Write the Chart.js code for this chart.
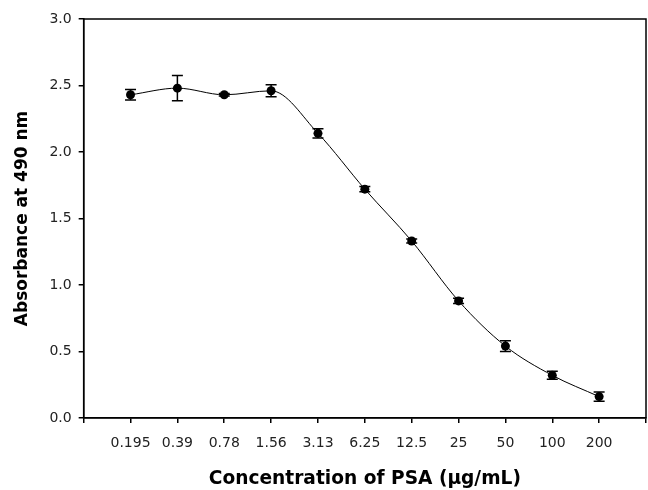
<!DOCTYPE html>
<html>
<head>
<meta charset="utf-8">
<script src="https://cdn.jsdelivr.net/npm/chart.js@4"></script>
<style>
    body { margin: 0; background: #fff; }
    #wrap { width: 648px; height: 490px; }
</style>
</head>
<body>
<div id="wrap"><canvas id="psaChart"></canvas></div>
<script>
// PSA concentrations (ug/mL) and mean absorbance at 490 nm with error bars
var concentrations = ["0.195", "0.39", "0.78", "1.56", "3.13", "6.25", "12.5", "25", "50", "100", "200"];
var absorbance = [2.43, 2.48, 2.43, 2.46, 2.14, 1.72, 1.33, 0.88, 0.54, 0.32, 0.16];
var errors = [0.04, 0.095, 0.01, 0.045, 0.035, 0.02, 0.015, 0.02, 0.04, 0.03, 0.035];

var points = absorbance.map(function (v, i) {
    return { x: i + 1, y: v };
});

// box around the plot area
var frame = {
    id: 'frame',
    beforeDatasetsDraw: function (chart) {
        var a = chart.chartArea, ctx = chart.ctx;
        ctx.save();
        ctx.strokeStyle = '#000';
        ctx.lineWidth = 1.5;
        ctx.strokeRect(a.left, a.top, a.right - a.left, a.bottom - a.top);
        ctx.restore();
    }
};

var errorBars = {
    id: 'errorBars',
    afterDatasetsDraw: function (chart) {
        var ctx = chart.ctx, xs = chart.scales.x, ys = chart.scales.y;
        ctx.save();
        ctx.strokeStyle = '#000';
        ctx.lineWidth = 1.5;
        points.forEach(function (p, i) {
            var px = xs.getPixelForValue(p.x);
            var top = ys.getPixelForValue(p.y + errors[i]);
            var bot = ys.getPixelForValue(p.y - errors[i]);
            ctx.beginPath();
            ctx.moveTo(px, top); ctx.lineTo(px, bot);
            ctx.moveTo(px - 5.5, top); ctx.lineTo(px + 5.5, top);
            ctx.moveTo(px - 5.5, bot); ctx.lineTo(px + 5.5, bot);
            ctx.stroke();
        });
        ctx.restore();
    }
};

var tickFont = { family: '"DejaVu Sans", Arial, sans-serif', size: 14 };

new Chart(document.getElementById('psaChart'), {
    type: 'line',
    data: {
        datasets: [{
            data: points,
            borderColor: '#000',
            borderWidth: 1,
            backgroundColor: '#000',
            pointRadius: 4.5,
            pointBorderWidth: 0,
            cubicInterpolationMode: 'monotone'
        }]
    },
    options: {
        responsive: true,
        maintainAspectRatio: false,
        animation: false,
        layout: { autoPadding: false, padding: { top: 19, right: 2, left: 12, bottom: 0 } },
        plugins: {
            legend: { display: false },
            tooltip: { enabled: false },
            title: {
                display: true,
                position: 'bottom',
                fullSize: false,
                text: 'Concentration of PSA (\u00b5g/mL)',
                color: '#000',
                font: { family: '"DejaVu Sans", Arial, sans-serif', size: 18.6, weight: 'bold' },
                padding: { top: 4, bottom: 0 }
            }
        },
        scales: {
            x: {
                type: 'linear',
                min: 0,
                max: 12,
                // the last tick has no label, so no room is needed for it
                afterFit: function (scale) { scale.paddingRight = 0; },
                grid: { drawOnChartArea: false, tickLength: 5, color: '#000', lineWidth: 1.5 },
                border: { color: '#000', width: 1.5 },
                ticks: {
                    stepSize: 1,
                    autoSkip: false,
                    maxRotation: 0,
                    padding: 12,
                    color: '#222',
                    font: tickFont,
                    callback: function (v) { return concentrations[v - 1] || ''; }
                }
            },
            y: {
                min: 0,
                max: 3,
                grid: { drawOnChartArea: false, tickLength: 5, color: '#000', lineWidth: 1.5 },
                border: { color: '#000', width: 1.5 },
                ticks: {
                    stepSize: 0.5,
                    padding: 7,
                    color: '#222',
                    font: tickFont,
                    callback: function (v) { return v.toFixed(1); }
                },
                title: {
                    display: true,
                    text: 'Absorbance at 490 nm',
                    color: '#000',
                    font: { family: '"DejaVu Sans", Arial, sans-serif', size: 17, weight: 'bold' },
                    padding: { top: 0, bottom: 10 }
                }
            }
        }
    },
    plugins: [frame, errorBars]
});
</script>
</body>
</html>
